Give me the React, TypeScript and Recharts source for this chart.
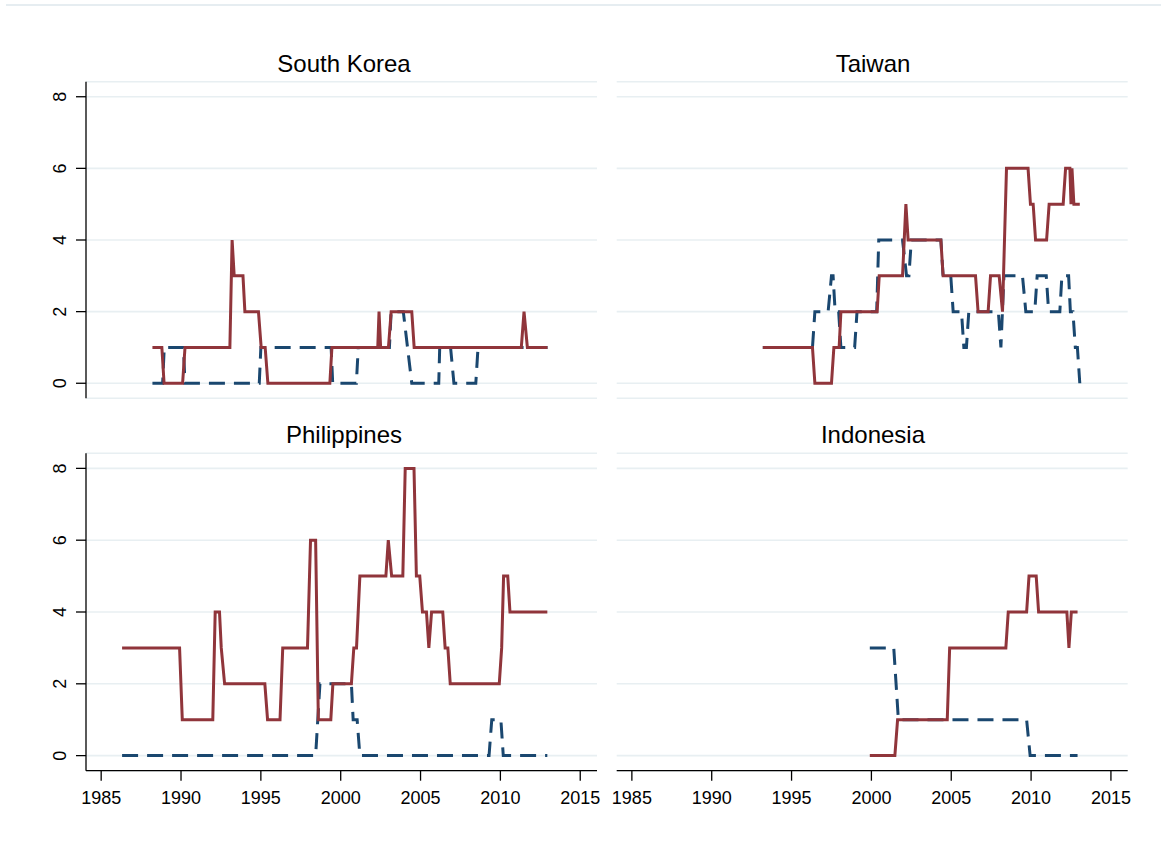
import React from 'react';
import { LineChart, Line, XAxis, YAxis, CartesianGrid } from 'recharts';

type Pt = [number, number];

const yearTicks = [1985, 1990, 1995, 2000, 2005, 2010, 2015];
const valueTicks = [0, 2, 4, 6, 8];

// [year, value] breakpoints
const koreaSolid: Pt[] = [
  [1988.21, 1], [1988.8, 1], [1988.94, 0], [1990.1, 0], [1990.25, 1], [1993.06, 1], [1993.2, 4], [1993.33, 3],
  [1993.88, 3], [1994.0, 2], [1994.85, 2], [1995.02, 1], [1995.27, 1], [1995.44, 0], [1999.32, 0], [1999.45, 1],
  [2002.32, 1], [2002.4, 2], [2002.5, 1], [2002.99, 1], [2003.16, 2], [2004.45, 2], [2004.6, 1], [2011.31, 1],
  [2011.48, 2], [2011.69, 1], [2012.95, 1],
];
const koreaDashed: Pt[] = [
  [1988.21, 0], [1988.85, 0], [1988.95, 1], [1990.15, 1], [1990.25, 0], [1994.9, 0], [1995.0, 1], [1999.4, 1],
  [1999.5, 0], [2000.98, 0], [2001.1, 1], [2003.05, 1], [2003.16, 2], [2003.92, 2], [2004.45, 0], [2006.14, 0],
  [2006.2, 1], [2006.88, 1], [2007.09, 0], [2008.46, 0], [2008.6, 1], [2012.95, 1],
];

const taiwanSolid: Pt[] = [
  [1993.2, 1], [1996.31, 1], [1996.46, 0], [1997.5, 0], [1997.65, 1], [1997.98, 1], [1998.09, 2], [2000.36, 2],
  [2000.49, 3], [2001.95, 3], [2002.16, 5], [2002.3, 4], [2004.35, 4], [2004.49, 3], [2006.52, 3], [2006.68, 2],
  [2007.31, 2], [2007.46, 3], [2008.0, 3], [2008.21, 2], [2008.46, 6], [2009.81, 6], [2009.96, 5], [2010.13, 5],
  [2010.28, 4], [2010.97, 4], [2011.13, 5], [2012.01, 5], [2012.16, 6], [2012.43, 6], [2012.5, 5], [2012.56, 6],
  [2012.68, 5], [2013.05, 5],
];
const taiwanDashed: Pt[] = [
  [1993.2, 1], [1996.31, 1], [1996.46, 2], [1997.29, 2], [1997.5, 3], [1997.6, 3], [1997.73, 2], [1997.95, 2],
  [1998.09, 1], [1998.95, 1], [1999.1, 2], [2000.33, 2], [2000.46, 4], [2001.95, 4], [2002.2, 3], [2002.35, 3],
  [2002.5, 4], [2004.35, 4], [2004.49, 3], [2004.97, 3], [2005.12, 2], [2005.64, 2], [2005.79, 1], [2005.95, 1],
  [2006.1, 2], [2007.95, 2], [2008.11, 1], [2008.3, 3], [2009.46, 3], [2009.67, 2], [2010.23, 2], [2010.38, 3],
  [2010.95, 3], [2011.1, 2], [2011.8, 2], [2011.93, 3], [2012.35, 3], [2012.46, 2], [2012.62, 2], [2012.77, 1],
  [2012.9, 1], [2013.05, 0],
];

const philippinesSolid: Pt[] = [
  [1986.31, 3], [1989.91, 3], [1990.08, 1], [1991.99, 1], [1992.14, 4], [1992.41, 4], [1992.52, 3], [1992.73, 2],
  [1995.25, 2], [1995.42, 1], [1996.2, 1], [1996.37, 3], [1997.92, 3], [1998.11, 6], [1998.43, 6], [1998.6, 1],
  [1999.38, 1], [1999.51, 2], [2000.67, 2], [2000.82, 3], [2000.99, 3], [2001.2, 5], [2002.83, 5], [2002.98, 6],
  [2003.19, 5], [2003.89, 5], [2004.04, 8], [2004.59, 8], [2004.74, 5], [2004.95, 5], [2005.12, 4], [2005.37, 4],
  [2005.52, 3], [2005.69, 4], [2006.39, 4], [2006.54, 3], [2006.71, 3], [2006.86, 2], [2009.93, 2], [2010.08, 3],
  [2010.2, 5], [2010.46, 5], [2010.6, 4], [2012.94, 4],
];
const philippinesDashed: Pt[] = [
  [1986.31, 0], [1998.43, 0], [1998.7, 2], [2000.67, 2], [2000.78, 1], [2001.03, 1], [2001.2, 0], [2009.29, 0],
  [2009.46, 1], [2010.03, 1], [2010.18, 0], [2012.94, 0],
];

const indonesiaSolid: Pt[] = [
  [1999.9, 0], [2001.47, 0], [2001.64, 1], [2004.75, 1], [2004.9, 3], [2008.42, 3], [2008.57, 4], [2009.72, 4],
  [2009.87, 5], [2010.32, 5], [2010.47, 4], [2012.24, 4], [2012.37, 3], [2012.52, 4], [2012.91, 4],
];
const indonesiaDashed: Pt[] = [
  [1999.9, 3], [2001.4, 3], [2001.69, 1], [2009.72, 1], [2009.94, 0], [2012.91, 0],
];

const FONT = '"Liberation Sans", Arial, Helvetica, sans-serif';
const RED = '#90353b';
const BLUE = '#1a476f';
const GRID = '#e8eff2';

const toRows = (pts: Pt[]) => pts.map(([x, v]) => ({ x, v }));

const RotatedTick = (props: any) => {
  const { x, y, payload } = props;
  return (
    <text x={x} y={y} transform={`rotate(-90 ${x} ${y})`} textAnchor="middle" fontSize={18} fill="#000" fontFamily={FONT}>
      {payload.value}
    </text>
  );
};

interface PanelProps {
  solid: Pt[];
  dashed: Pt[];
  showX: boolean;
  showY: boolean;
  left: number;
  top: number;
  width: number;
  height: number;
  margin: { top: number; right: number; bottom: number; left: number };
}

const Panel: React.FC<PanelProps> = ({ solid, dashed, showX, showY, left, top, width, height, margin }) => (
  <div style={{ position: 'absolute', left, top, width, height }}>
    <LineChart width={width} height={height} margin={margin}>
      <CartesianGrid vertical={false} stroke={GRID} strokeWidth={1.6} />
      <XAxis
        type="number"
        dataKey="x"
        domain={[1984.05, 2016.05]}
        ticks={yearTicks}
        allowDataOverflow
        hide={!showX}
        height={40}
        tickSize={10}
        tickMargin={11}
        axisLine={{ stroke: '#000', strokeWidth: 1.3 }}
        tickLine={{ stroke: '#000', strokeWidth: 1.3 }}
        tick={{ fill: '#000', fontSize: 18, fontFamily: FONT }}
      />
      <YAxis
        type="number"
        domain={[-0.42, 8.42]}
        ticks={valueTicks}
        allowDataOverflow
        hide={!showY}
        width={86}
        tickSize={10}
        tickMargin={10}
        axisLine={{ stroke: '#000', strokeWidth: 1.3 }}
        tickLine={{ stroke: '#000', strokeWidth: 1.3 }}
        tick={<RotatedTick />}
      />
      <Line
        data={toRows(dashed)}
        dataKey="v"
        type="linear"
        stroke={BLUE}
        strokeWidth={3}
        strokeDasharray="16 9"
        dot={false}
        activeDot={false}
        isAnimationActive={false}
      />
      <Line
        data={toRows(solid)}
        dataKey="v"
        type="linear"
        stroke={RED}
        strokeWidth={3}
        dot={false}
        activeDot={false}
        isAnimationActive={false}
      />
    </LineChart>
  </div>
);

export default function App() {
  return (
    <div style={{ position: 'absolute', left: 0, top: 0, width: 1161, height: 846, background: '#fff', fontFamily: FONT }}>
      <Panel solid={koreaSolid} dashed={koreaDashed} showX={false} showY left={0} top={0} width={610} height={420}
        margin={{ top: 81.7, right: 13, bottom: 21.7, left: 0 }} />
      <Panel solid={taiwanSolid} dashed={taiwanDashed} showX={false} showY={false} left={600} top={0} width={561} height={420}
        margin={{ top: 81.7, right: 33.3, bottom: 21.7, left: 16.7 }} />
      <Panel solid={philippinesSolid} dashed={philippinesDashed} showX showY left={0} top={400} width={610} height={446}
        margin={{ top: 53.3, right: 13, bottom: 35.3, left: 0 }} />
      <Panel solid={indonesiaSolid} dashed={indonesiaDashed} showX showY={false} left={600} top={400} width={561} height={446}
        margin={{ top: 53.3, right: 33.3, bottom: 35.3, left: 16.7 }} />
      <svg width={1161} height={846} style={{ position: 'absolute', left: 0, top: 0, pointerEvents: 'none' }}>
        <line x1={6} y1={5} x2={1161} y2={5} stroke="#e6edf1" strokeWidth={2} />
        <text x={344} y={71.7} textAnchor="middle" fontSize={24} fontFamily={FONT} fill="#000">South Korea</text>
        <text x={873} y={71.7} textAnchor="middle" fontSize={24} fontFamily={FONT} fill="#000">Taiwan</text>
        <text x={344} y={443.3} textAnchor="middle" fontSize={24} fontFamily={FONT} fill="#000">Philippines</text>
        <text x={873} y={443.3} textAnchor="middle" fontSize={24} fontFamily={FONT} fill="#000">Indonesia</text>
      </svg>
    </div>
  );
}
